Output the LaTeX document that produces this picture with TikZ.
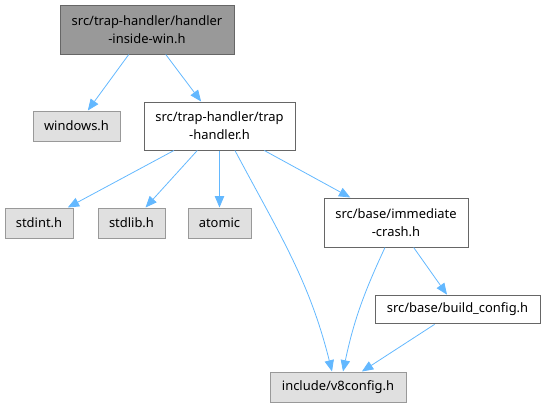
\documentclass[tikz,border=0pt]{standalone}
\usepackage{fontspec}
\setmainfont{Noto Sans}
\usepackage{xcolor}
\usetikzlibrary{arrows.meta}

\definecolor{edgeblue}{HTML}{63B8FF}
\definecolor{rootfill}{HTML}{999999}
\definecolor{darkline}{HTML}{666666}
\definecolor{sysfill}{HTML}{E0E0E0}
\definecolor{sysline}{HTML}{999999}

\begin{document}
\begin{tikzpicture}[x=0.75pt, y=-0.75pt,
    file/.style={rectangle, draw=darkline, fill=white, line width=0.75pt, inner sep=0pt,
        align=center, font=\fontsize{9.7}{13.4}\selectfont},
    rootfile/.style={file, fill=rootfill},
    sysfile/.style={file, draw=sysline, fill=sysfill},
    incl/.style={-{Triangle[length=8.5pt,width=7pt,fill=edgeblue]}, draw=edgeblue, line width=0.6pt}]

    \useasboundingbox (0,0) rectangle (544,408);

    \node[rootfile, minimum width=130.5pt, minimum height=36.75pt] (handler) at (147,29.5) {src/trap-handler/handler\\-inside-win.h};
    \node[sysfile, minimum width=65.25pt, minimum height=22.5pt] (windows) at (76.5,126) {windows.h};
    \node[file, minimum width=113.25pt, minimum height=36pt] (trap) at (219.5,126) {src/trap-handler/trap\\-handler.h};
    \node[sysfile, minimum width=51pt, minimum height=22.5pt] (stdint) at (39,223) {stdint.h};
    \node[sysfile, minimum width=50.25pt, minimum height=22.5pt] (stdlib) at (131.5,223) {stdlib.h};
    \node[sysfile, minimum width=47.25pt, minimum height=22.5pt] (atomic) at (219.5,223) {atomic};
    \node[file, minimum width=108pt, minimum height=36.75pt] (crash) at (396,222.5) {src/base/immediate\\-crash.h};
    \node[file, minimum width=123.75pt, minimum height=21.5pt] (buildcfg) at (457.5,309.5) {src/base/build\_config.h};
    \node[sysfile, minimum width=102pt, minimum height=22.5pt] (v8cfg) at (338,387) {include/v8config.h};

    \draw[incl] (handler) -- (windows);
    \draw[incl] (handler) -- (trap);
    \draw[incl] (trap) -- (stdint);
    \draw[incl] (trap) -- (stdlib);
    \draw[incl] (trap) -- (atomic);
    \draw[incl] ([xshift=11.6pt]trap.south) to[out=-62, in=104] ([xshift=-4.5pt]v8cfg.north);
    \draw[incl] (trap) -- (crash);
    \draw[incl] ([xshift=-8.25pt]crash.south) to[out=-115, in=78] ([xshift=3.75pt]v8cfg.north);
    \draw[incl] (crash) -- (buildcfg);
    \draw[incl] (buildcfg) -- (v8cfg);
\end{tikzpicture}
\end{document}
